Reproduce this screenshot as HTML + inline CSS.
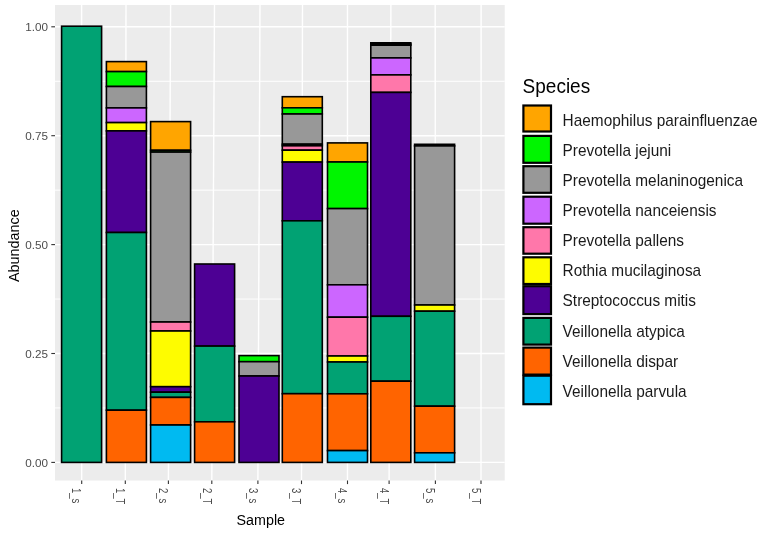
<!DOCTYPE html>
<html><head><meta charset="utf-8"><style>
html,body{margin:0;padding:0;background:#fff;}
body{width:760px;height:534px;overflow:hidden;}
svg{display:block;font-family:"Liberation Sans",sans-serif;filter:blur(0.4px);}
</style></head><body>
<svg width="760" height="534" viewBox="0 0 760 534">
<rect x="55.0" y="5.0" width="449.70" height="475.50" fill="#ECECEC"/>
<line x1="55.0" x2="504.7" y1="407.95" y2="407.95" stroke="#FFFFFF" stroke-width="1.0"/>
<line x1="55.0" x2="504.7" y1="299.05" y2="299.05" stroke="#FFFFFF" stroke-width="1.0"/>
<line x1="55.0" x2="504.7" y1="190.15" y2="190.15" stroke="#FFFFFF" stroke-width="1.0"/>
<line x1="55.0" x2="504.7" y1="81.25" y2="81.25" stroke="#FFFFFF" stroke-width="1.0"/>
<line x1="55.0" x2="504.7" y1="462.40" y2="462.40" stroke="#FFFFFF" stroke-width="1.4"/>
<line x1="55.0" x2="504.7" y1="353.50" y2="353.50" stroke="#FFFFFF" stroke-width="1.4"/>
<line x1="55.0" x2="504.7" y1="244.60" y2="244.60" stroke="#FFFFFF" stroke-width="1.4"/>
<line x1="55.0" x2="504.7" y1="135.70" y2="135.70" stroke="#FFFFFF" stroke-width="1.4"/>
<line x1="55.0" x2="504.7" y1="26.80" y2="26.80" stroke="#FFFFFF" stroke-width="1.4"/>
<line x1="81.6" x2="81.7" y1="5.0" y2="480.5" stroke="#FFFFFF" stroke-width="1.4"/>
<line x1="126.0" x2="125.3" y1="5.0" y2="480.5" stroke="#FFFFFF" stroke-width="1.4"/>
<line x1="170.6" x2="168.4" y1="5.0" y2="480.5" stroke="#FFFFFF" stroke-width="1.4"/>
<line x1="214.5" x2="211.8" y1="5.0" y2="480.5" stroke="#FFFFFF" stroke-width="1.4"/>
<line x1="260.0" x2="257.9" y1="5.0" y2="480.5" stroke="#FFFFFF" stroke-width="1.4"/>
<line x1="302.5" x2="301.5" y1="5.0" y2="480.5" stroke="#FFFFFF" stroke-width="1.4"/>
<line x1="347.5" x2="347.5" y1="5.0" y2="480.5" stroke="#FFFFFF" stroke-width="1.4"/>
<line x1="390.9" x2="389.1" y1="5.0" y2="480.5" stroke="#FFFFFF" stroke-width="1.4"/>
<line x1="435.2" x2="435.4" y1="5.0" y2="480.5" stroke="#FFFFFF" stroke-width="1.4"/>
<line x1="481.1" x2="481.0" y1="5.0" y2="480.5" stroke="#FFFFFF" stroke-width="1.4"/>
<rect x="61.60" y="26.20" width="40.00" height="436.20" fill="#01A273" stroke="#000" stroke-width="1.6"/>
<rect x="106.40" y="61.60" width="40.00" height="10.00" fill="#FFA500" stroke="#000" stroke-width="1.6"/>
<rect x="106.40" y="71.60" width="40.00" height="14.90" fill="#00F500" stroke="#000" stroke-width="1.6"/>
<rect x="106.40" y="86.50" width="40.00" height="21.40" fill="#989898" stroke="#000" stroke-width="1.6"/>
<rect x="106.40" y="107.90" width="40.00" height="14.70" fill="#CC66FF" stroke="#000" stroke-width="1.6"/>
<rect x="106.40" y="122.60" width="40.00" height="8.30" fill="#FEFC00" stroke="#000" stroke-width="1.6"/>
<rect x="106.40" y="130.90" width="40.00" height="101.60" fill="#4D0094" stroke="#000" stroke-width="1.6"/>
<rect x="106.40" y="232.50" width="40.00" height="177.70" fill="#01A273" stroke="#000" stroke-width="1.6"/>
<rect x="106.40" y="410.20" width="40.00" height="52.20" fill="#FF6400" stroke="#000" stroke-width="1.6"/>
<rect x="150.60" y="121.60" width="40.00" height="28.70" fill="#FFA500" stroke="#000" stroke-width="1.6"/>
<rect x="150.60" y="150.30" width="40.00" height="1.80" fill="#00F500" stroke="#000" stroke-width="1.6"/>
<rect x="150.60" y="152.10" width="40.00" height="169.90" fill="#989898" stroke="#000" stroke-width="1.6"/>
<rect x="150.60" y="322.00" width="40.00" height="9.00" fill="#FF77AA" stroke="#000" stroke-width="1.6"/>
<rect x="150.60" y="331.00" width="40.00" height="55.70" fill="#FEFC00" stroke="#000" stroke-width="1.6"/>
<rect x="150.60" y="386.70" width="40.00" height="5.50" fill="#4D0094" stroke="#000" stroke-width="1.6"/>
<rect x="150.60" y="392.20" width="40.00" height="5.20" fill="#01A273" stroke="#000" stroke-width="1.6"/>
<rect x="150.60" y="397.40" width="40.00" height="27.60" fill="#FF6400" stroke="#000" stroke-width="1.6"/>
<rect x="150.60" y="425.00" width="40.00" height="37.40" fill="#00BAF1" stroke="#000" stroke-width="1.6"/>
<rect x="194.60" y="264.00" width="40.00" height="82.10" fill="#4D0094" stroke="#000" stroke-width="1.6"/>
<rect x="194.60" y="346.10" width="40.00" height="75.70" fill="#01A273" stroke="#000" stroke-width="1.6"/>
<rect x="194.60" y="421.80" width="40.00" height="40.60" fill="#FF6400" stroke="#000" stroke-width="1.6"/>
<rect x="239.00" y="355.60" width="40.00" height="6.10" fill="#00F500" stroke="#000" stroke-width="1.6"/>
<rect x="239.00" y="361.70" width="40.00" height="14.30" fill="#989898" stroke="#000" stroke-width="1.6"/>
<rect x="239.00" y="376.00" width="40.00" height="86.40" fill="#4D0094" stroke="#000" stroke-width="1.6"/>
<rect x="282.30" y="96.70" width="40.00" height="11.10" fill="#FFA500" stroke="#000" stroke-width="1.6"/>
<rect x="282.30" y="107.80" width="40.00" height="6.20" fill="#00F500" stroke="#000" stroke-width="1.6"/>
<rect x="282.30" y="114.00" width="40.00" height="30.20" fill="#989898" stroke="#000" stroke-width="1.6"/>
<rect x="282.30" y="144.20" width="40.00" height="1.60" fill="#CC66FF" stroke="#000" stroke-width="1.6"/>
<rect x="282.30" y="145.80" width="40.00" height="4.40" fill="#FF77AA" stroke="#000" stroke-width="1.6"/>
<rect x="282.30" y="150.20" width="40.00" height="11.90" fill="#FEFC00" stroke="#000" stroke-width="1.6"/>
<rect x="282.30" y="162.10" width="40.00" height="58.70" fill="#4D0094" stroke="#000" stroke-width="1.6"/>
<rect x="282.30" y="220.80" width="40.00" height="172.90" fill="#01A273" stroke="#000" stroke-width="1.6"/>
<rect x="282.30" y="393.70" width="40.00" height="68.70" fill="#FF6400" stroke="#000" stroke-width="1.6"/>
<rect x="327.50" y="142.90" width="40.00" height="19.10" fill="#FFA500" stroke="#000" stroke-width="1.6"/>
<rect x="327.50" y="162.00" width="40.00" height="46.60" fill="#00F500" stroke="#000" stroke-width="1.6"/>
<rect x="327.50" y="208.60" width="40.00" height="76.20" fill="#989898" stroke="#000" stroke-width="1.6"/>
<rect x="327.50" y="284.80" width="40.00" height="32.40" fill="#CC66FF" stroke="#000" stroke-width="1.6"/>
<rect x="327.50" y="317.20" width="40.00" height="38.80" fill="#FF77AA" stroke="#000" stroke-width="1.6"/>
<rect x="327.50" y="356.00" width="40.00" height="6.00" fill="#FEFC00" stroke="#000" stroke-width="1.6"/>
<rect x="327.50" y="362.00" width="40.00" height="31.80" fill="#01A273" stroke="#000" stroke-width="1.6"/>
<rect x="327.50" y="393.80" width="40.00" height="56.80" fill="#FF6400" stroke="#000" stroke-width="1.6"/>
<rect x="327.50" y="450.60" width="40.00" height="11.80" fill="#00BAF1" stroke="#000" stroke-width="1.6"/>
<rect x="370.80" y="42.80" width="40.00" height="1.20" fill="#FFA500" stroke="#000" stroke-width="1.6"/>
<rect x="370.80" y="44.00" width="40.00" height="1.20" fill="#00F500" stroke="#000" stroke-width="1.6"/>
<rect x="370.80" y="45.20" width="40.00" height="12.70" fill="#989898" stroke="#000" stroke-width="1.6"/>
<rect x="370.80" y="57.90" width="40.00" height="17.00" fill="#CC66FF" stroke="#000" stroke-width="1.6"/>
<rect x="370.80" y="74.90" width="40.00" height="17.50" fill="#FF77AA" stroke="#000" stroke-width="1.6"/>
<rect x="370.80" y="92.40" width="40.00" height="223.90" fill="#4D0094" stroke="#000" stroke-width="1.6"/>
<rect x="370.80" y="316.30" width="40.00" height="64.90" fill="#01A273" stroke="#000" stroke-width="1.6"/>
<rect x="370.80" y="381.20" width="40.00" height="81.20" fill="#FF6400" stroke="#000" stroke-width="1.6"/>
<rect x="414.60" y="144.30" width="40.00" height="1.60" fill="#FFA500" stroke="#000" stroke-width="1.6"/>
<rect x="414.60" y="145.90" width="40.00" height="159.10" fill="#989898" stroke="#000" stroke-width="1.6"/>
<rect x="414.60" y="305.00" width="40.00" height="6.20" fill="#FEFC00" stroke="#000" stroke-width="1.6"/>
<rect x="414.60" y="311.20" width="40.00" height="95.00" fill="#01A273" stroke="#000" stroke-width="1.6"/>
<rect x="414.60" y="406.20" width="40.00" height="46.60" fill="#FF6400" stroke="#000" stroke-width="1.6"/>
<rect x="414.60" y="452.80" width="40.00" height="9.60" fill="#00BAF1" stroke="#000" stroke-width="1.6"/>
<line x1="51.3" x2="55.0" y1="462.40" y2="462.40" stroke="#333333" stroke-width="1.1"/>
<text x="48.1" y="467.00" text-anchor="end" font-size="11.7" fill="#4D4D4D">0.00</text>
<line x1="51.3" x2="55.0" y1="353.50" y2="353.50" stroke="#333333" stroke-width="1.1"/>
<text x="48.1" y="358.10" text-anchor="end" font-size="11.7" fill="#4D4D4D">0.25</text>
<line x1="51.3" x2="55.0" y1="244.60" y2="244.60" stroke="#333333" stroke-width="1.1"/>
<text x="48.1" y="249.20" text-anchor="end" font-size="11.7" fill="#4D4D4D">0.50</text>
<line x1="51.3" x2="55.0" y1="135.70" y2="135.70" stroke="#333333" stroke-width="1.1"/>
<text x="48.1" y="140.30" text-anchor="end" font-size="11.7" fill="#4D4D4D">0.75</text>
<line x1="51.3" x2="55.0" y1="26.80" y2="26.80" stroke="#333333" stroke-width="1.1"/>
<text x="48.1" y="31.40" text-anchor="end" font-size="11.7" fill="#4D4D4D">1.00</text>
<line x1="81.7" x2="81.7" y1="480.5" y2="484.1" stroke="#333333" stroke-width="1.1"/>
<text transform="translate(72.40,488) rotate(90) scale(0.78,1)" font-size="12.2" fill="#4D4D4D">1_s</text>
<line x1="125.3" x2="125.3" y1="480.5" y2="484.1" stroke="#333333" stroke-width="1.1"/>
<text transform="translate(116.00,488) rotate(90) scale(0.78,1)" font-size="12.2" fill="#4D4D4D">1_T</text>
<line x1="168.4" x2="168.4" y1="480.5" y2="484.1" stroke="#333333" stroke-width="1.1"/>
<text transform="translate(159.10,488) rotate(90) scale(0.78,1)" font-size="12.2" fill="#4D4D4D">2_s</text>
<line x1="211.8" x2="211.8" y1="480.5" y2="484.1" stroke="#333333" stroke-width="1.1"/>
<text transform="translate(202.50,488) rotate(90) scale(0.78,1)" font-size="12.2" fill="#4D4D4D">2_T</text>
<line x1="257.9" x2="257.9" y1="480.5" y2="484.1" stroke="#333333" stroke-width="1.1"/>
<text transform="translate(248.60,488) rotate(90) scale(0.78,1)" font-size="12.2" fill="#4D4D4D">3_s</text>
<line x1="301.5" x2="301.5" y1="480.5" y2="484.1" stroke="#333333" stroke-width="1.1"/>
<text transform="translate(292.20,488) rotate(90) scale(0.78,1)" font-size="12.2" fill="#4D4D4D">3_T</text>
<line x1="347.5" x2="347.5" y1="480.5" y2="484.1" stroke="#333333" stroke-width="1.1"/>
<text transform="translate(338.20,488) rotate(90) scale(0.78,1)" font-size="12.2" fill="#4D4D4D">4_s</text>
<line x1="389.1" x2="389.1" y1="480.5" y2="484.1" stroke="#333333" stroke-width="1.1"/>
<text transform="translate(379.80,488) rotate(90) scale(0.78,1)" font-size="12.2" fill="#4D4D4D">4_T</text>
<line x1="435.4" x2="435.4" y1="480.5" y2="484.1" stroke="#333333" stroke-width="1.1"/>
<text transform="translate(426.10,488) rotate(90) scale(0.78,1)" font-size="12.2" fill="#4D4D4D">5_s</text>
<line x1="481.0" x2="481.0" y1="480.5" y2="484.1" stroke="#333333" stroke-width="1.1"/>
<text transform="translate(471.70,488) rotate(90) scale(0.78,1)" font-size="12.2" fill="#4D4D4D">5_T</text>
<text transform="translate(260.8,524.8) scale(1,1.07)" text-anchor="middle" font-size="14.3" fill="#000">Sample</text>
<text transform="translate(19.2,245.6) rotate(-90)" text-anchor="middle" font-size="14.4" fill="#000">Abundance</text>
<text transform="translate(522.6,92.6) scale(1,1.08)" font-size="19" fill="#000">Species</text>
<rect x="523.4" y="105.50" width="27.6" height="26.00" fill="#FFA500" stroke="#000" stroke-width="2.2"/>
<text transform="translate(562.6,125.50) scale(1,1.035)" font-size="15.4" fill="#1A1A1A">Haemophilus parainfluenzae</text>
<rect x="523.4" y="135.90" width="27.6" height="26.90" fill="#00F500" stroke="#000" stroke-width="2.2"/>
<text transform="translate(562.6,155.66) scale(1,1.035)" font-size="15.4" fill="#1A1A1A">Prevotella jejuni</text>
<rect x="523.4" y="166.20" width="27.6" height="26.60" fill="#989898" stroke="#000" stroke-width="2.2"/>
<text transform="translate(562.6,185.82) scale(1,1.035)" font-size="15.4" fill="#1A1A1A">Prevotella melaninogenica</text>
<rect x="523.4" y="196.70" width="27.6" height="27.00" fill="#CC66FF" stroke="#000" stroke-width="2.2"/>
<text transform="translate(562.6,215.98) scale(1,1.035)" font-size="15.4" fill="#1A1A1A">Prevotella nanceiensis</text>
<rect x="523.4" y="227.20" width="27.6" height="26.50" fill="#FF77AA" stroke="#000" stroke-width="2.2"/>
<text transform="translate(562.6,246.14) scale(1,1.035)" font-size="15.4" fill="#1A1A1A">Prevotella pallens</text>
<rect x="523.4" y="257.30" width="27.6" height="26.70" fill="#FEFC00" stroke="#000" stroke-width="2.2"/>
<text transform="translate(562.6,276.30) scale(1,1.035)" font-size="15.4" fill="#1A1A1A">Rothia mucilaginosa</text>
<rect x="523.4" y="286.20" width="27.6" height="27.90" fill="#4D0094" stroke="#000" stroke-width="2.2"/>
<text transform="translate(562.6,306.46) scale(1,1.035)" font-size="15.4" fill="#1A1A1A">Streptococcus mitis</text>
<rect x="523.4" y="317.90" width="27.6" height="26.70" fill="#01A273" stroke="#000" stroke-width="2.2"/>
<text transform="translate(562.6,336.62) scale(1,1.035)" font-size="15.4" fill="#1A1A1A">Veillonella atypica</text>
<rect x="523.4" y="347.60" width="27.6" height="27.00" fill="#FF6400" stroke="#000" stroke-width="2.2"/>
<text transform="translate(562.6,366.78) scale(1,1.035)" font-size="15.4" fill="#1A1A1A">Veillonella dispar</text>
<rect x="523.4" y="375.70" width="27.6" height="28.50" fill="#00BAF1" stroke="#000" stroke-width="2.2"/>
<text transform="translate(562.6,396.94) scale(1,1.035)" font-size="15.4" fill="#1A1A1A">Veillonella parvula</text>
</svg>
</body></html>
